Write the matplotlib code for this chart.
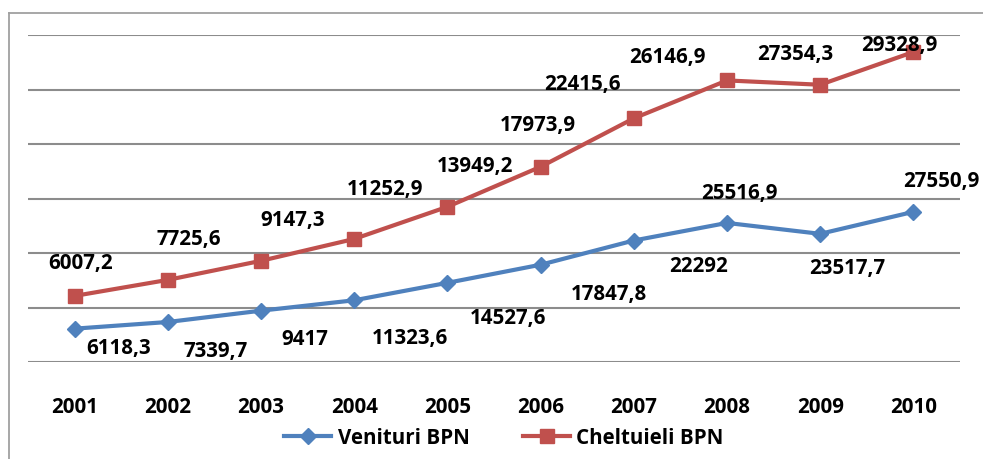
import numpy as np
import matplotlib.pyplot as plt
from matplotlib.lines import Line2D

plt.rcParams['font.family'] = ['Open Sans', 'DejaVu Sans']
plt.rcParams['font.weight'] = 'bold'

years = ['2001', '2002', '2003', '2004', '2005', '2006', '2007', '2008', '2009', '2010']
venituri = [6118.3, 7339.7, 9417, 11323.6, 14527.6, 17847.8, 22292, 25516.9, 23517.7, 27550.9]
cheltuieli = [6007.2, 7725.6, 9147.3, 11252.9, 13949.2, 17973.9, 22415.6, 26146.9, 27354.3, 29328.9]

# label offsets in pixels (dx, dy), moved by hand like in the original
off_ven = [(44, -20), (48, -30), (44, -29), (56, -38), (61, -36), (68, -30), (65, -26), (12, 29), (27, -35), (28, 30)]
off_chel = [(6, 32), (21, 40), (32, 40), (31, 49), (28, 40), (-3, 41), (-51, 34), (-60, 23), (-25, 30), (-14, 7)]

def fmt(v):
    return f"{v:g}".replace('.', ',')

FS = 14.8
W, H = 983, 459
fig = plt.figure(figsize=(W / 100, H / 100), dpi=100)
ax = fig.add_axes([28 / W, 97 / H, 932 / W, 327 / H])

x = np.arange(len(years))
stacked = np.array(venituri) + np.array(cheltuieli)  # stacked line chart

ax.plot(x, venituri, color='#4F81BD', lw=3, marker='D', ms=8, label='Venituri BPN', zorder=3)
ax.plot(x, stacked, color='#C0504D', lw=3, marker='s', ms=10.5, label='Cheltuieli BPN', zorder=3)

for i in range(len(years)):
    ax.annotate(fmt(venituri[i]), (x[i], venituri[i]), xytext=off_ven[i], textcoords='offset pixels',
                ha='center', va='center', fontsize=FS, fontweight='bold', zorder=5)
    ax.annotate(fmt(cheltuieli[i]), (x[i], stacked[i]), xytext=off_chel[i], textcoords='offset pixels',
                ha='center', va='center', fontsize=FS, fontweight='bold', zorder=5)

ax.set_xlim(-0.5, len(years) - 0.5)
ax.set_ylim(0, 60000)
ax.set_yticks(np.arange(0, 60001, 10000))
ax.yaxis.grid(True, color='#8c8c8c', lw=1.5)
ax.set_axisbelow(True)
ax.tick_params(axis='y', left=False, labelleft=False)
ax.set_xticks(x, years)
ax.tick_params(axis='x', bottom=False, pad=22, labelsize=FS)
for t in ax.get_xticklabels():
    t.set_fontweight('bold')
for s in ax.spines.values():
    s.set_visible(False)

fig.legend(loc='center', bbox_to_anchor=(504 / W, 21 / H), ncol=2, frameon=False,
           prop={'size': FS, 'weight': 'bold'}, handlelength=2.3, handletextpad=0.3, columnspacing=2.6)

# chart border (partly cropped in the original)
fig.add_artist(Line2D([9 / W, 9 / W], [0, 1 - 12.5 / H], color='#a0a0a0', lw=1.3))
fig.add_artist(Line2D([9 / W, 1], [1 - 12.5 / H, 1 - 12.5 / H], color='#a0a0a0', lw=1.3))

fig.savefig('out.png', dpi=100)
